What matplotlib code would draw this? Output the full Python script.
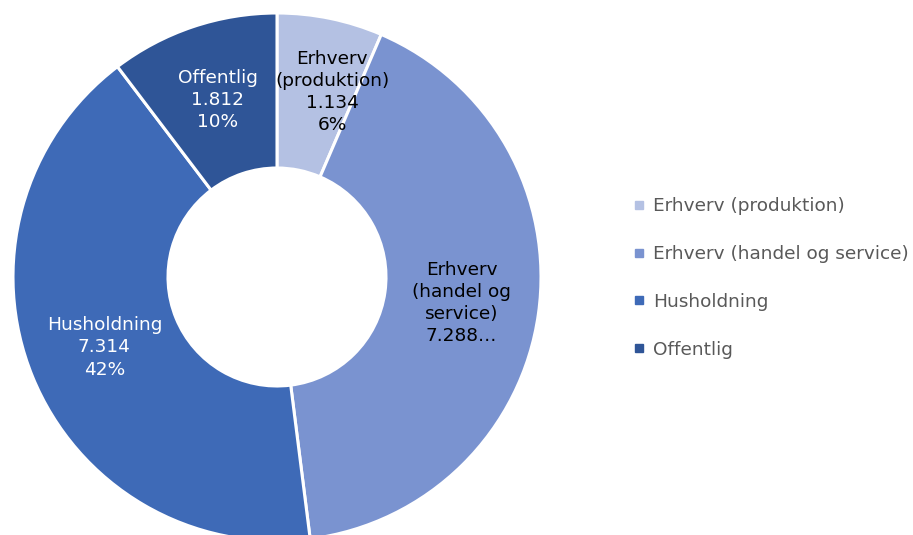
import numpy as np
import matplotlib
matplotlib.use("Agg")
import matplotlib.pyplot as plt
from matplotlib.lines import Line2D

# energy use by sector
categories = ["Erhverv (produktion)", "Erhverv (handel og service)", "Husholdning", "Offentlig"]
label_names = ["Erhverv\n(produktion)", "Erhverv\n(handel og\nservice)", "Husholdning", "Offentlig"]
values = [1.134, 7.288, 7.314, 1.812]
value_text = ["1.134", "7.288\u2026", "7.314", "1.812"]
show_pct = [True, False, True, True]
colors = ["#b4c1e3", "#7a93d0", "#3e6ab7", "#2f5597"]
text_colors = ["black", "black", "white", "white"]
# the narrow slice's label is pushed a bit clockwise and outwards
label_nudge = [-5, 0, 0, 0]
label_dr = [0.025, 0, 0, 0]

plt.rcParams["font.family"] = ["Verdana", "DejaVu Sans"]

W, H = 913, 535
fig = plt.figure(figsize=(W / 100, H / 100), dpi=100)

# donut centre (277, 277) px, outer radius 264 px
R = 264
cx, cy = 277, 277
ax = fig.add_axes([(cx - R) / W, (H - cy - R) / H, 2 * R / W, 2 * R / H])

ring = 1 - 109 / R
wedges, _ = ax.pie(values, colors=colors, startangle=90, counterclock=False,
                   radius=1, wedgeprops=dict(width=ring, edgecolor="white", linewidth=2.2))
ax.set_xlim(-1, 1)
ax.set_ylim(-1, 1)
ax.set_aspect("equal")
ax.axis("off")

total = sum(values)
r_lab = 1 - ring / 2
for w, name, vt, pct, tc, v, nd, dr in zip(wedges, label_names, value_text, show_pct,
                                           text_colors, values, label_nudge, label_dr):
    ang = np.deg2rad((w.theta1 + w.theta2) / 2 + nd)
    txt = name + "\n" + vt
    if pct:
        txt += "\n%d%%" % round(v / total * 100)
    ax.text((r_lab + dr) * np.cos(ang), (r_lab + dr) * np.sin(ang), txt, ha="center", va="center",
            fontsize=13.3, color=tc, linespacing=1.3)

handles = [Line2D([], [], marker="s", linestyle="none", markersize=5.5,
                  markerfacecolor=c, markeredgecolor=c) for c in colors]
leg = fig.legend(handles, categories, loc="center left", bbox_to_anchor=(617 / W, 1 - 278 / H),
                 frameon=False, fontsize=13.3, handlelength=0.6, handletextpad=0.45,
                 labelspacing=1.61, labelcolor="#595959")

fig.savefig("out.png", dpi=100)
